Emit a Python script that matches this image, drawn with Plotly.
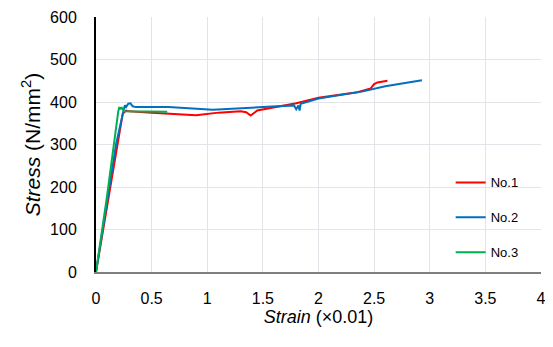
import plotly.graph_objects as go

# No.1
strain1 = [0, 0.12, 0.24, 0.27, 0.30, 0.50, 0.70, 0.90, 1.10, 1.30, 1.35, 1.39, 1.45, 1.60, 1.80, 2.00, 2.20, 2.35, 2.47, 2.50, 2.53, 2.62]
stress1 = [0, 185, 372, 380, 378, 375, 372, 369, 375, 378, 376, 368, 380, 388, 397, 410, 418, 423, 432, 442, 446, 450]
# No.2
strain2 = [0, 0.10, 0.18, 0.25, 0.26, 0.27, 0.29, 0.31, 0.33, 0.36, 0.65, 1.05, 1.40, 1.60, 1.78, 1.80, 1.82, 1.83, 1.84, 2.00, 2.20, 2.40, 2.60, 2.93]
stress2 = [0, 165, 300, 383, 392, 388, 396, 397, 390, 388, 388, 382, 386, 390, 392, 383, 392, 380, 396, 408, 416, 425, 437, 451]
# No.3
strain3 = [0, 0.10, 0.20, 0.21, 0.22, 0.23, 0.25, 0.64]
stress3 = [0, 180, 378, 388, 383, 388, 378, 377]

names = ["No.1", "No.2", "No.3"]
colors = ["#FF0000", "#0070C0", "#00B050"]
xticks = [0, 0.5, 1, 1.5, 2, 2.5, 3, 3.5, 4]
yticks = [0, 100, 200, 300, 400, 500, 600]

fig = go.Figure()
for i, (x, y) in enumerate([(strain1, stress1), (strain2, stress2), (strain3, stress3)]):
    fig.add_trace(go.Scatter(x=x, y=y, mode="lines", name=names[i],
                             line=dict(color=colors[i], width=2),
                             legendgroup=names[i]))

fig.update_layout(
    width=545, height=339,
    margin=dict(l=88, r=12, t=9, b=75, autoexpand=False),
    plot_bgcolor="white", paper_bgcolor="white",
    font=dict(family="Liberation Sans, Arial", size=16, color="black"),
    showlegend=True,
    legend=dict(x=0.797, y=0.41, xanchor="left", yanchor="top",
                bgcolor="rgba(0,0,0,0)", font=dict(size=13),
                tracegroupgap=15, itemwidth=30),
    xaxis=dict(range=[0, 4], tickvals=xticks, ticktext=[str(v) for v in xticks],
               showgrid=True, gridcolor="#E3E3EA", gridwidth=1,
               showline=True, linecolor="#7F7F7F", linewidth=2,
               zeroline=False, ticks="", automargin=False,
               ticklabelstandoff=11, tickfont=dict(size=16),
               title=dict(text="<i>Strain</i> (×0.01)", font=dict(size=18), standoff=1)),
    yaxis=dict(range=[0, 600], tickvals=yticks,
               showgrid=True, gridcolor="#E3E3EA", gridwidth=1,
               showline=True, linecolor="black", linewidth=2,
               zeroline=False, ticks="", automargin=False,
               ticklabelstandoff=14, tickfont=dict(size=16),
               title=dict(text="<i>Stress</i> (N/mm<sup>2</sup>)", font=dict(size=21), standoff=4)),
)
fig.write_html("out.html")
